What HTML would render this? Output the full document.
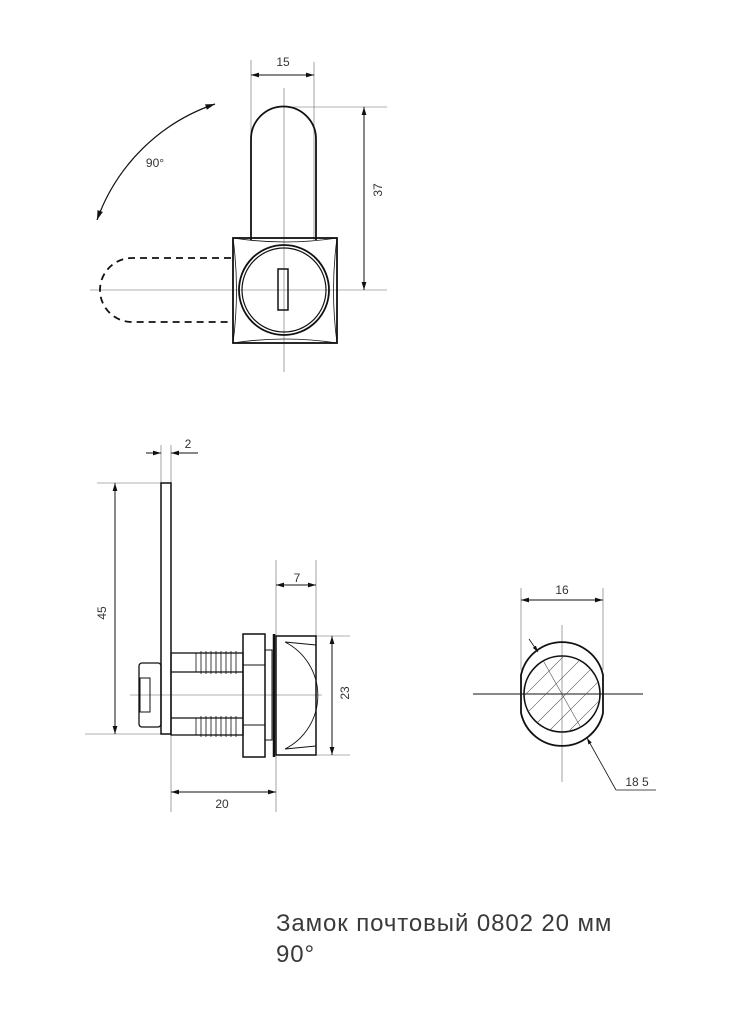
<!DOCTYPE html>
<html><head><meta charset="utf-8"><style>
body{margin:0;background:#fff;width:731px;height:1024px;overflow:hidden;position:relative}
svg{position:absolute;left:0;top:0}
.t{font-family:"Liberation Sans",sans-serif;fill:#333;font-size:12px}
.title{position:absolute;left:276px;top:908px;font-family:"Liberation Sans","Noto Sans CJK SC",sans-serif;font-size:24px;letter-spacing:0.9px;color:#3a3a3a;line-height:31px}
</style></head><body>
<svg width="731" height="1024" viewBox="0 0 731 1024">
<defs>
<marker id="a" viewBox="0 0 10 10" refX="10" refY="5" markerWidth="8" markerHeight="8" orient="auto-start-reverse"><path d="M0,2 L10,5 L0,8z" fill="#111"/></marker>
<clipPath id="cc"><circle cx="562" cy="694" r="38"/></clipPath>
</defs>
<g stroke="#111" fill="none">
<g stroke-width="0.6" stroke="#666">
<line x1="251" y1="60" x2="251" y2="240"/><line x1="314" y1="62" x2="314" y2="240"/>
<line x1="284" y1="88" x2="284" y2="372"/><line x1="90" y1="290" x2="387" y2="290"/>
<line x1="284" y1="107" x2="387" y2="107"/>
</g>
<line x1="251" y1="75" x2="314" y2="75" stroke-width="1" marker-start="url(#a)" marker-end="url(#a)"/>
<line x1="364" y1="107" x2="364" y2="290" stroke-width="1" marker-start="url(#a)" marker-end="url(#a)"/>
<path d="M97,220 A190,190 0 0 1 215,104" stroke-width="1.2" marker-start="url(#a)" marker-end="url(#a)"/>
<path d="M251,240 L251,139 A32.5,32.5 0 0 1 316,139 L316,240" stroke-width="1.8"/>
<rect x="233" y="238" width="104" height="105" stroke-width="1.8"/>
<path d="M233,238 Q240,290 233,343 M337,238 Q330,290 337,343 M233,238 Q285,246 337,238 M233,343 Q285,335 337,343" stroke-width="0.8"/>
<circle cx="284" cy="290" r="45" stroke-width="1.8"/>
<circle cx="284" cy="290" r="42" stroke-width="1.2"/>
<rect x="278" y="269" width="10" height="41" stroke-width="1.5"/>
<path d="M231,258 L132,258 A32,32 0 0 0 132,322 L231,322" stroke-width="1.8" stroke-dasharray="7,5"/>
<g stroke-width="0.6" stroke="#666">
<line x1="161" y1="445" x2="161" y2="483"/><line x1="171" y1="445" x2="171" y2="812"/>
<line x1="97" y1="483" x2="161" y2="483"/><line x1="85" y1="734" x2="161" y2="734"/>
<line x1="276" y1="560" x2="276" y2="812"/><line x1="316" y1="560" x2="316" y2="636"/>
<line x1="316" y1="636" x2="350" y2="636"/><line x1="316" y1="755" x2="350" y2="755"/>
<line x1="130" y1="695" x2="322" y2="695"/>
</g>
<line x1="146" y1="453" x2="161" y2="453" stroke-width="1" marker-end="url(#a)"/>
<line x1="198" y1="453" x2="171" y2="453" stroke-width="1" marker-end="url(#a)"/>
<line x1="115" y1="483" x2="115" y2="734" stroke-width="1" marker-start="url(#a)" marker-end="url(#a)"/>
<line x1="276" y1="585" x2="316" y2="585" stroke-width="1" marker-start="url(#a)" marker-end="url(#a)"/>
<line x1="332" y1="636" x2="332" y2="755" stroke-width="1" marker-start="url(#a)" marker-end="url(#a)"/>
<line x1="171" y1="792" x2="276" y2="792" stroke-width="1" marker-start="url(#a)" marker-end="url(#a)"/>
<rect x="161" y="483" width="10" height="251" stroke-width="1.5"/>
<rect x="171" y="653" width="72" height="82" stroke-width="1.3"/>
<line x1="171" y1="672" x2="243" y2="672" stroke-width="1.3"/><line x1="171" y1="718" x2="243" y2="718" stroke-width="1.3"/>
<path d="M196,653v19M201,651v23M206,651v23M211,651v23M216,651v23M221,651v23M226,651v23M231,651v23M236,651v23M196,718v17M201,716v21M206,716v21M211,716v21M216,716v21M221,716v21M226,716v21M231,716v21M236,716v21" stroke-width="0.8"/>
<rect x="243" y="634" width="22" height="123" stroke-width="1.5"/>
<line x1="243" y1="665" x2="265" y2="665" stroke-width="1"/><line x1="243" y1="725" x2="265" y2="725" stroke-width="1"/>
<rect x="265" y="650" width="7" height="90" stroke-width="1"/>
<line x1="274" y1="634" x2="274" y2="757" stroke-width="2.5"/>
<rect x="276" y="636" width="40" height="119" stroke-width="1.5"/>
<path d="M285,642 A60,60 0 0 1 285,749 M285,642 L316,645 M285,749 L316,746" stroke-width="0.9"/>
<rect x="139" y="663" width="22" height="64" rx="3" stroke-width="1.3"/>
<rect x="140" y="678" width="10" height="34" stroke-width="1"/>
<g stroke-width="0.6" stroke="#666">
<line x1="521" y1="588" x2="521" y2="670"/><line x1="603" y1="588" x2="603" y2="670"/>
<line x1="562" y1="625" x2="562" y2="782"/>
</g>
<line x1="473" y1="694" x2="643" y2="694" stroke-width="1"/>
<line x1="521" y1="600" x2="603" y2="600" stroke-width="1" marker-start="url(#a)" marker-end="url(#a)"/>
<path d="M521,675 A42,42 0 0 1 603,675 L603,713 A42,42 0 0 1 521,713 Z" stroke-width="1.8"/>
<circle cx="562" cy="694" r="38" stroke-width="1.6"/>
<g clip-path="url(#cc)" stroke-width="0.6" stroke="#555">
<path d="M500,700l80,-80M510,710l80,-80M520,720l80,-80M530,730l80,-80M540,740l80,-80M550,750l80,-80M560,760l80,-80M490,690l80,-80M480,680l80,-80"/>
<line x1="540" y1="655" x2="585" y2="735"/>
</g>
<line x1="529" y1="639" x2="538" y2="652" stroke-width="0.8" marker-end="url(#a)"/>
<path d="M616,790 L587,738" stroke-width="0.8" marker-end="url(#a)"/>
<line x1="616" y1="790" x2="656" y2="790" stroke-width="0.8"/>
</g>
<text class="t" x="283" y="66" text-anchor="middle">15</text>
<text class="t" x="155" y="167" text-anchor="middle">90°</text>
<text class="t" transform="translate(382,190) rotate(-90)" text-anchor="middle">37</text>
<text class="t" x="188" y="448" text-anchor="middle">2</text>
<text class="t" transform="translate(106,613) rotate(-90)" text-anchor="middle">45</text>
<text class="t" x="297" y="582" text-anchor="middle">7</text>
<text class="t" transform="translate(349,693) rotate(-90)" text-anchor="middle">23</text>
<text class="t" x="222" y="808" text-anchor="middle">20</text>
<text class="t" x="562" y="594" text-anchor="middle">16</text>
<text class="t" x="637" y="786" text-anchor="middle">18 5</text>
</svg>
<div class="title">Замок почтовый 0802 20 мм<br>90°</div>
</body></html>
